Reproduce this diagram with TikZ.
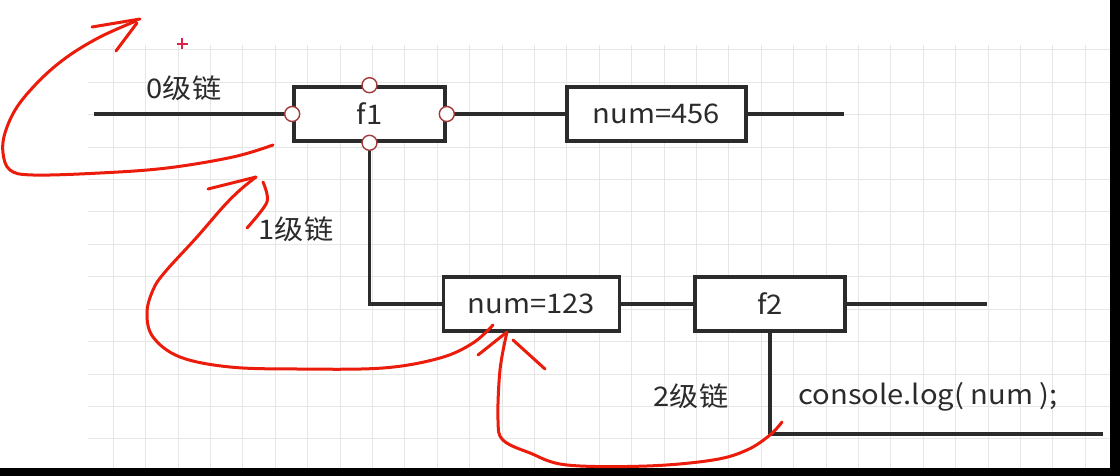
\documentclass[tikz,border=0pt]{standalone}
\usepackage{fontspec}
\setmainfont[FakeStretch=1.08]{Noto Sans CJK SC}
\usetikzlibrary{calc}
\definecolor{ink}{HTML}{2B2B2B}
\definecolor{gridc}{HTML}{E6E6E6}
\definecolor{pen}{HTML}{EC1C0C}
\definecolor{portc}{HTML}{A33A3A}
\definecolor{plusc}{HTML}{E0204A}
\tikzset{
  box/.style={draw=ink, line width=3.6pt, fill=white, minimum height=54pt, inner sep=0pt, font=\fontsize{27}{32}\selectfont, text=ink},
  wire/.style={draw=ink, line width=3.6pt},
  port/.style={circle, draw=portc, line width=1.4pt, fill=white, minimum size=15pt, inner sep=0pt},
  lbl/.style={font=\fontsize{27}{32}\selectfont, text=ink, inner sep=0pt},
  redpen/.style={draw=pen, line width=3pt, line cap=round, line join=round},
}
\begin{document}
\begin{tikzpicture}[x=1pt,y=-1pt]
\useasboundingbox (0,0) rectangle (1120,476);
\fill[white] (0,0) rectangle (1120,476);
% grid
\foreach \k in {0,...,30} \draw[gridc, line width=1pt] ({113.3+32.4*\k},45) -- ({113.3+32.4*\k},468);
\foreach \j in {0,...,12} \draw[gridc, line width=1pt] (88,{50+32.4*\j}) -- (1110,{50+32.4*\j});
% frame strips
\fill[black] (0,468) rectangle (1120,476);
\fill[black] (1110,0) rectangle (1120,476);

% nodes
\node[box, minimum width=151pt] (f1) at (369.5,114) {f1};
\node[box, minimum width=179pt] (n456) at (656.5,114) {num=456};
\node[box, minimum width=176pt] (n123) at (531.5,304) {num=123};
\node[box, minimum width=150pt] (f2) at (770,304) {f2};
\coordinate (l0) at (94,114);
\coordinate (r0) at (844,114);
\coordinate (r1) at (987,304);
\coordinate (r2) at (1103,434);

% connectors
\draw[wire] (l0) -- (f1.west);
\draw[wire] (f1.east) -- (n456.west);
\draw[wire] (n456.east) -- (r0);
\draw[wire] (f1.south) |- (n123.west);
\draw[wire] (n123.east) -- (f2.west);
\draw[wire] (f2.east) -- (r1);
\draw[wire] (f2.south) |- (r2);

% ports on f1
\node[port] (pw) at (f1.west) {};
\node[port] (pn) at (f1.north) {};
\node[port] (pe) at (f1.east) {};
\node[port] (ps) at (f1.south) {};

% labels
\node[lbl] (t0) at (184,88) {0级链};
\node[lbl] (t1) at (296,229) {1级链};
\node[lbl] (t2) at (691,396) {2级链};
\node[lbl] (tc) at (928,397) {console.log( num );};

% red plus
\draw[plusc, line width=2pt] (176.5,44) -- (187.5,44) (182,38.5) -- (182,49.5);

% red freehand strokes
\draw[redpen] plot[smooth, tension=0.6] coordinates {(273,145) (233,157) (167,168) (100,173) (33,175) (10,170) (3,153) (5,133) (17,107) (40,80) (67,57) (100,37) (136,21)};
\draw[redpen] (92,27) -- (140,19);
\draw[redpen] (116,51) -- (137,23);

\draw[redpen] plot[smooth, tension=0.6] coordinates {(493,325) (473,343) (440,358) (383,368) (297,369) (230,367) (180,357) (153,337) (147,313) (153,290) (165,272) (197,237) (223,207) (240,190) (256,177)};
\draw[redpen] (208,189) -- (256,177);
\draw[redpen] plot[smooth] coordinates {(263,182) (267,202) (247,228)};

\draw[redpen] plot[smooth, tension=0.6] coordinates {(507,332) (500,370) (498,420) (503,440) (530,453) (567,465) (647,466) (713,460) (747,450) (770,435) (782,422)};
\draw[redpen] (478,355) -- (507,332);
\draw[redpen] (513,340) -- (545,369);
\end{tikzpicture}
\end{document}
